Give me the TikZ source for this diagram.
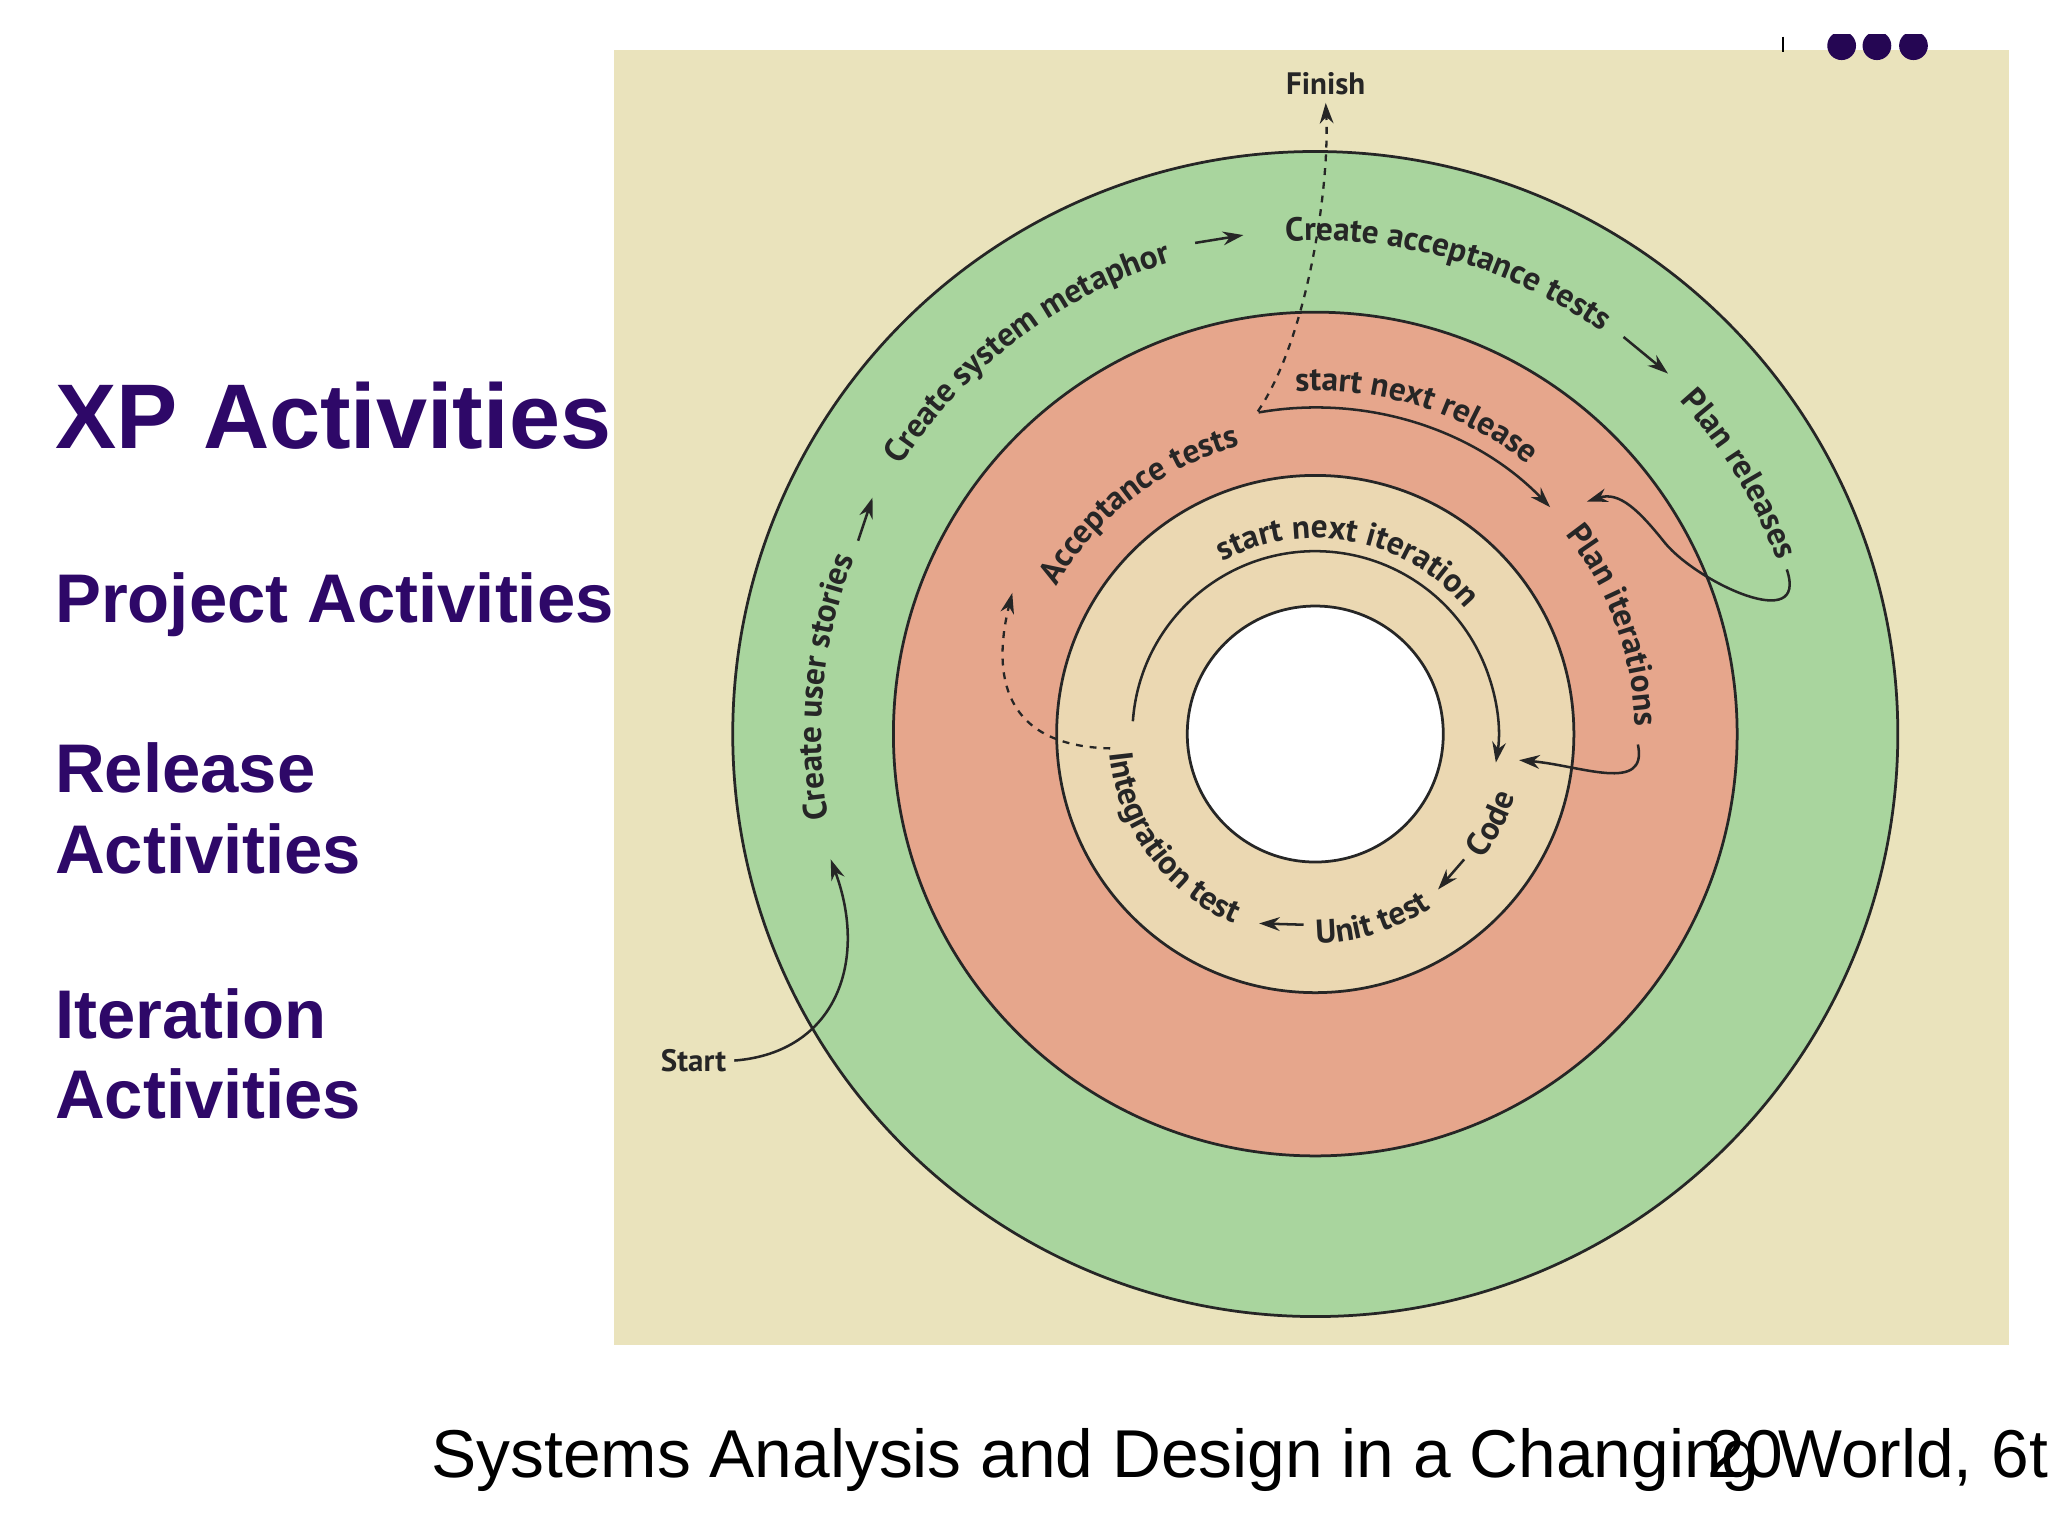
\documentclass[tikz,border=0pt]{standalone}
\usepackage{fontspec}
\setmainfont{Liberation Sans}
\newfontfamily\dfont{PT Sans}
\usetikzlibrary{arrows.meta,decorations.text}
\definecolor{bgtan}{HTML}{EAE3BC}
\definecolor{ringgreen}{HTML}{A9D59E}
\definecolor{ringred}{HTML}{E6A68C}
\definecolor{ringbeige}{HTML}{EBD8B2}
\definecolor{xppurple}{HTML}{2E0868}
\newcommand{\arclabel}[4]{%
  \path[decorate,decoration={text along path,text align=center,
    text={|\dfont\bfseries\fontsize{14.5}{16}\selectfont\color{black!85}|#4}}]
    ([shift={(O)}]#1:#3) arc[start angle=#1,end angle=#2,radius=#3];}
\begin{document}
\begin{tikzpicture}[x=0.02cm,y=0.02cm,
  ring/.style={draw=black!85,line width=1.2pt},
  arr/.style={draw=black!85,line width=1.1pt,-{Stealth[length=9pt,width=6pt]}},
  darr/.style={arr,dashed,line width=1pt},
  side/.style={anchor=west,font=\bfseries,text=xppurple,align=left},
  lab/.style={font=\dfont\bfseries\fontsize{13.5}{15}\selectfont,text=black!85}]
\useasboundingbox (0,0) rectangle (1568,1176);
\fill[white] (0,0) rectangle (1568,1176);
\fill[bgtan] (470,146) rectangle (1538,1138);
\coordinate (O) at (1007,614);
\draw[ring,fill=ringgreen] (O) circle[radius=446];
\draw[ring,fill=ringred] (O) circle[radius=323];
\draw[ring,fill=ringbeige] (O) circle[radius=198];
\draw[ring,fill=white] (O) circle[radius=98];
% outer ring
\arclabel{196}{153}{378}{Create user stories}
\arclabel{152}{102}{378}{Create system metaphor}
\arclabel{98}{50}{378}{Create acceptance tests}
\arclabel{48}{15}{378}{Plan releases}
% red ring
\arclabel{154}{101}{228}{Acceptance tests}
\arclabel{98}{47}{263}{start next release}
\arclabel{44}{-4}{245}{Plan iterations}
% inner ring
\arclabel{124}{34}{150}{start next iteration}
\arclabel{178}{254}{158}{Integration test}
\arclabel{262}{312}{160}{Unit test}
\arclabel{316}{350}{160}{Code}
% arrows between labels
\coordinate (a1s) at (657,762); \coordinate (a1e) at (668,795);
\draw[arr] (a1s) -- (a1e);
\coordinate (a2s) at (915,990); \coordinate (a2e) at (952,996);
\draw[arr] (a2s) -- (a2e);
\coordinate (a3s) at (1243,918); \coordinate (a3e) at (1277,890);
\draw[arr] (a3s) -- (a3e);
\coordinate (a4s) at (998,468); \coordinate (a4e) at (964,469);
\draw[arr] (a4s) -- (a4e);
\coordinate (a5s) at (1121,518); \coordinate (a5e) at (1101,495);
\draw[arr] (a5s) -- (a5e);
% inner circular arrows
\draw[arr] ([shift={(O)}]100:250) arc[start angle=100,end angle=44,radius=250];
\draw[arr] ([shift={(O)}]176:140) arc[start angle=176,end angle=-9,radius=140];
% curls
\coordinate (c1s) at (1254,606); \coordinate (c1e) at (1163,594);
\draw[arr] (c1s) .. controls (1262,568) and (1210,590) .. (c1e);
\coordinate (c2s) at (1368,740); \coordinate (c2e) at (1215,792);
\draw[arr] (c2s) .. controls (1385,690) and (1300,730) .. (1275,760) .. controls (1255,785) and (1240,800) .. (c2e);
% start / finish
\node[lab] (start) at (531,364) {Start};
\node[lab] (finish) at (1015,1112) {Finish};
\draw[arr] (start.east) .. controls (640,370) and (665,440) .. (636,518);
\coordinate (d1) at (963,861);
\draw[darr] (d1) .. controls (1000,915) and (1018,1030) .. (finish.south);
\coordinate (d2) at (850,603);
\draw[darr] (d2) .. controls (760,605) and (762,670) .. (775,722);
% left texts
\node[side,font=\bfseries\fontsize{40}{46}\selectfont] (xp) at (36,858) {XP Activities};
\node[side,font=\bfseries\fontsize{30}{35}\selectfont] (pa) at (36,713) {Project Activities};
\node[side,font=\bfseries\fontsize{30}{35}\selectfont] (ra) at (36,557) {Release\\[0pt]Activities};
\node[side,font=\bfseries\fontsize{30}{35}\selectfont] (ia) at (36,369) {Iteration\\[0pt]Activities};
% footer
\begin{scope}
\clip (0,0) rectangle (1568,1176);
\node[anchor=base west,font=\fontsize{29.5}{34}\selectfont,inner sep=0pt] (foot) at (330,45) {Systems Analysis and Design in a Changing World, 6th};
\node[anchor=base west,font=\fontsize{29.5}{34}\selectfont,inner sep=0pt] (pg) at (1307,45) {20};
\fill[xppurple!80!black] (1410,1141) circle[radius=11] (1437,1141) circle[radius=11] (1465,1141) circle[radius=11];
\draw[black,line width=1pt] (1365,1148) -- (1365,1136);
\end{scope}
\fill[white] (1360,1150) rectangle (1568,1176);
\end{tikzpicture}
\end{document}
